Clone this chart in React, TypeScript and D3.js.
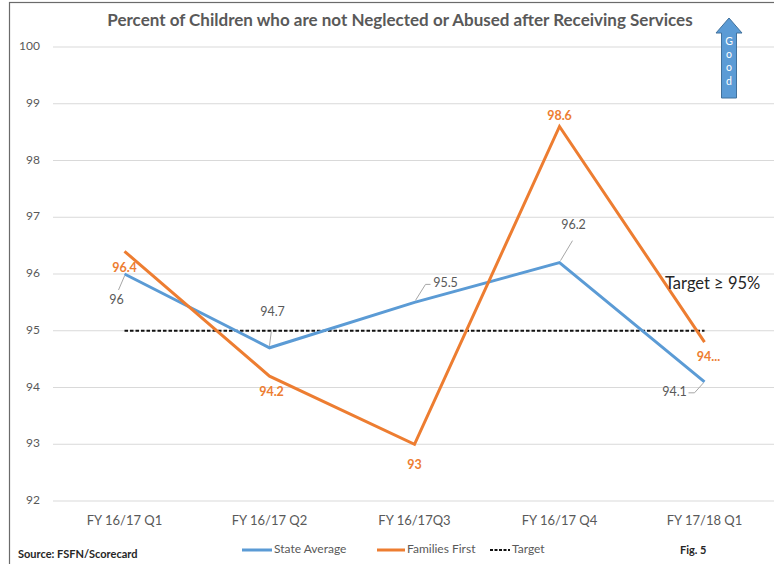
import React from "react";
import * as d3 from "d3";

// Quarterly reporting periods
const categories = ["FY 16/17 Q1", "FY 16/17 Q2", "FY 16/17Q3", "FY 16/17 Q4", "FY 17/18 Q1"];
// Percent of children not neglected or abused after receiving services
const stateAverage = [96, 94.7, 95.5, 96.2, 94.1];
const familiesFirst = [96.4, 94.2, 93, 98.6, 94.8];
const familiesFirstLabels = ["96.4", "94.2", "93", "98.6", "94..."];
const targetValue = 95;
const yTicks = [92, 93, 94, 95, 96, 97, 98, 99, 100];
const arrowLetters = ["G", "o", "o", "d"];

// Label placement: text offset from point, and leader-line path points (relative)
const stateLabelLayout = [
  { dx: -8, dy: 27, leader: [[0, 2], [-6, 16]] },
  { dx: 3, dy: -35, leader: [[0, -2], [2, -18]] },
  { dx: 31, dy: -19, leader: [[1, -2], [11, -18], [16, -18]] },
  { dx: 14, dy: -37, leader: [[1, -2], [13, -22]] },
  { dx: -30, dy: 11, leader: [[-1, 1], [-10, 11], [-16, 11]] },
];
const ffLabelLayout = [
  { dx: 0, dy: 17 },
  { dx: 2, dy: 17 },
  { dx: 0, dy: 22 },
  { dx: 0, dy: -10 },
  { dx: 4, dy: 16 },
];

const W = 774;
const H = 564;
const BLUE = "#5B9BD5";
const ORANGE = "#ED7D31";
const GREY = "#595959";
const FONT = "Lato, 'Open Sans', sans-serif";

export default function App() {
  const x = d3.scaleBand<string>().domain(categories).range([52, 777]).padding(0);
  const cx = (c: string) => (x(c) as number) + x.bandwidth() / 2;
  const y = d3.scaleLinear().domain([92, 100]).range([501, 47]);

  const line = d3
    .line<number>()
    .x((_, i) => cx(categories[i]))
    .y((d) => y(d));

  const x0 = cx(categories[0]);
  const x1 = cx(categories[categories.length - 1]);

  return (
    <div style={{ position: "fixed", left: 0, top: 0 }}>
      <svg width={W} height={H} style={{ display: "block", background: "#fff" }} fontFamily={FONT}>
        {/* frame */}
        <rect x={9.5} y={2.5} width={W + 20} height={H + 20} fill="#fff" stroke="#6b6b6b" strokeWidth={1.2} />

        {/* title */}
        <text x={400} y={26} textAnchor="middle" fontSize={17} fontWeight={700} fill={GREY}>
          Percent of Children who are not Neglected or Abused after Receiving Services
        </text>

        {/* gridlines and y labels */}
        {yTicks.map((t) => (
          <g key={t}>
            <line x1={53} x2={W} y1={y(t)} y2={y(t)} stroke="#d9d9d9" strokeWidth={1.2} />
            <text x={40} y={y(t)} textAnchor="end" dominantBaseline="middle" fontSize={12} fill={GREY}>
              {t}
            </text>
          </g>
        ))}

        {/* category labels */}
        {categories.map((c) => (
          <text key={c} x={cx(c)} y={522} textAnchor="middle" dominantBaseline="middle" fontSize={13} fill={GREY}>
            {c}
          </text>
        ))}

        {/* target line */}
        <line
          x1={x0}
          x2={x1}
          y1={y(targetValue)}
          y2={y(targetValue)}
          stroke="#111"
          strokeWidth={2}
          strokeDasharray="3.5 2"
        />

        {/* series */}
        <path d={line(stateAverage) ?? ""} fill="none" stroke={BLUE} strokeWidth={3} strokeLinejoin="miter" />
        <path d={line(familiesFirst) ?? ""} fill="none" stroke={ORANGE} strokeWidth={3} strokeLinejoin="miter" />

        {/* State Average labels with leader lines */}
        {stateAverage.map((v, i) => {
          const px = cx(categories[i]);
          const py = y(v);
          const L = stateLabelLayout[i];
          const pts = L.leader.map(([a, b]) => `${px + a},${py + b}`).join(" ");
          return (
            <g key={`sa${i}`}>
              <polyline points={pts} fill="none" stroke="#a6a6a6" strokeWidth={1} />
              <text x={px + L.dx} y={py + L.dy} textAnchor="middle" dominantBaseline="middle" fontSize={12.5} fill={GREY}>
                {v}
              </text>
            </g>
          );
        })}

        {/* Families First labels */}
        {familiesFirst.map((v, i) => {
          const px = cx(categories[i]);
          const py = y(v);
          const L = ffLabelLayout[i];
          return (
            <text
              key={`ff${i}`}
              x={px + L.dx}
              y={py + L.dy}
              textAnchor="middle"
              dominantBaseline="middle"
              fontSize={12.5}
              fontWeight={700}
              fill={ORANGE}
            >
              {familiesFirstLabels[i]}
            </text>
          );
        })}

        {/* target annotation */}
        <text x={665} y={285} dominantBaseline="middle" fontSize={16.5} fill="#262626">
          Target ≥ 95%
        </text>

        {/* "Good" direction arrow */}
        <path
          d="M729,18 L742,33 L736.5,33 L736.5,98 L721.5,98 L721.5,33 L716,33 Z"
          fill={BLUE}
          stroke="#41719C"
          strokeWidth={1}
        />
        {arrowLetters.map((ch, i) => (
          <text key={i} x={729} y={42 + i * 13.3} textAnchor="middle" dominantBaseline="middle" fontSize={10.5} fill="#fff">
            {ch}
          </text>
        ))}

        {/* legend */}
        <line x1={242} x2={272} y1={550} y2={550} stroke={BLUE} strokeWidth={3} />
        <text x={274} y={550} dominantBaseline="middle" fontSize={12} fill={GREY}>
          State Average
        </text>
        <line x1={377} x2={405} y1={550} y2={550} stroke={ORANGE} strokeWidth={3} />
        <text x={407} y={550} dominantBaseline="middle" fontSize={12} fill={GREY}>
          Families First
        </text>
        <line x1={490} x2={510} y1={550} y2={550} stroke="#111" strokeWidth={2} strokeDasharray="3 1.5" />
        <text x={512} y={550} dominantBaseline="middle" fontSize={12} fill={GREY}>
          Target
        </text>

        {/* footer */}
        <text x={18} y={555} dominantBaseline="middle" fontSize={11} fontWeight={700} fill="#262626">
          Source: FSFN/Scorecard
        </text>
        <text x={680} y={551} dominantBaseline="middle" fontSize={11} fontWeight={700} fill="#262626">
          Fig. 5
        </text>
      </svg>
    </div>
  );
}
